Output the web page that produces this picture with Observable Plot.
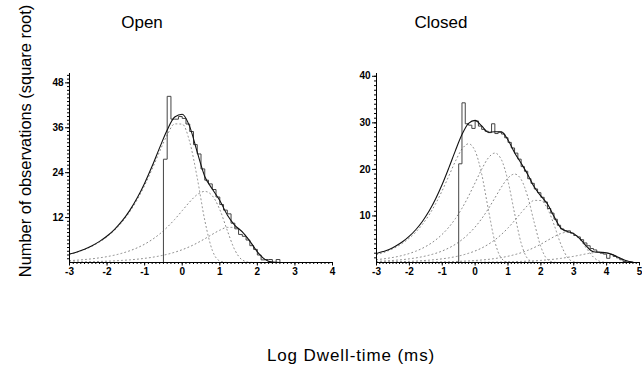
<!DOCTYPE html>
<html><head><meta charset="utf-8">
<script src="https://cdn.jsdelivr.net/npm/d3@7"></script>
<script src="https://cdn.jsdelivr.net/npm/@observablehq/plot@0.6"></script>
<style>
body{margin:0;background:#fff;}
#wrap{position:relative;width:642px;height:368px;overflow:hidden;font-family:"Liberation Sans",Arial,sans-serif;color:#000;background:#fff;}
.abs{position:absolute;}
.title{font-size:17px;white-space:nowrap;transform:translateX(-50%);line-height:normal;}
#ylab{left:25px;top:141px;font-size:16.4px;white-space:nowrap;transform:translate(-50%,-50%) rotate(-90deg);}
#xlab{left:351px;top:346px;font-size:17px;letter-spacing:0.9px;white-space:nowrap;transform:translateX(-50%);}
</style></head><body>
<div id="wrap">
  <div class="abs title" style="left:142px;top:13px">Open</div>
  <div class="abs title" style="left:441px;top:13px">Closed</div>
  <div id="left" class="abs" style="left:0;top:0;width:340px"></div>
  <div id="right" class="abs" style="left:340px;top:0;width:302px"></div>
  <div class="abs" id="ylab">Number of observations (square root)</div>
  <div class="abs" id="xlab">Log Dwell-time (ms)</div>
</div>
<script>
// ---------- Open panel ----------
const openX = [-3.0,-2.8,-2.6,-2.4,-2.2,-2.0,-1.8,-1.6,-1.4,-1.2,-1.0,-0.8,-0.6,-0.4,-0.2,0,0.2,0.4,0.6,0.8,1.0,1.2,1.4,1.6,1.8,2.0,2.2,2.4,2.6];
const openFit = [2.25,2.83,3.56,4.49,5.64,7.07,8.88,11.11,13.87,17.22,21.2,25.77,30.69,35.42,38.89,39.63,36.3,29.47,23.0,19.65,16.57,12.69,9.95,8.19,5.73,2.86,0.83,0.10,0];
const openComp1 = [2.19,2.76,3.47,4.37,5.49,6.89,8.65,10.82,13.5,16.75,20.6,24.99,29.68,34.07,37.04,36.97,32.21,22.62,11.3,3.29,0.41,0.01,0,0,0,0,0,0,0];
const openComp2 = [0.50,0.62,0.79,0.99,1.25,1.57,1.97,2.48,3.12,3.91,4.90,6.13,7.62,9.42,11.52,13.85,16.2,18.15,19,17.85,14.14,8.54,3.36,0.67,0.05,0,0,0,0];
const openComp3 = [0.11,0.14,0.18,0.22,0.28,0.35,0.44,0.56,0.70,0.88,1.11,1.39,1.75,2.19,2.74,3.42,4.24,5.22,6.33,7.52,8.63,9.38,9.37,8.16,5.73,2.86,0.83,0.10,0];
const openBinStart = -0.5;
const openBinWidth = 0.1;
const openCounts = [27.6,44.4,38.3,38.3,39.0,38.5,37.0,35.0,31.5,29.0,25.0,22.0,21.0,19.5,17.5,15.5,14.0,13.0,10.5,9.0,7.5,7.0,6.0,4.5,3.5,2.0,0.7,0.8,0.8,0,0.8];
const openXTicks = [-3,-2,-1,0,1,2,3,4];
const openYTicks = [12,24,36,48];

// ---------- Closed panel ----------
const closedX = [-3.0,-2.8,-2.6,-2.4,-2.2,-2.0,-1.8,-1.6,-1.4,-1.2,-1.0,-0.8,-0.6,-0.4,-0.2,0,0.2,0.4,0.6,0.8,1.0,1.2,1.4,1.6,1.8,2.0,2.2,2.4,2.6,2.8,3.0,3.2,3.4,3.6,3.8,4.0,4.2,4.4,4.6,4.8];
const closedFit = [1.95,2.35,2.85,3.58,4.50,5.66,7.09,8.87,11.05,13.70,16.81,20.33,24.04,27.48,29.90,30.53,29.33,27.99,28.08,28.07,26.31,23.59,21.32,18.92,16.2,14.3,12.55,9.86,7.46,6.67,6.2,5.02,3.4,2.3,2.21,2.07,1.64,0.99,0.39,0.08];
const closedComp1 = [1.67,2.10,2.65,3.33,4.18,5.25,6.58,8.22,10.23,12.65,15.46,18.58,21.74,24.36,25.5,23.96,18.98,11.46,4.50,0.90,0.06,0,0,0,0,0,0,0,0,0,0,0,0,0,0,0,0,0,0,0];
const closedComp2 = [0.61,0.77,0.97,1.22,1.54,1.94,2.44,3.07,3.86,4.84,6.07,7.58,9.43,11.65,14.25,17.13,20.03,22.45,23.5,22.08,17.49,10.56,4.15,0.82,0.06,0,0,0,0,0,0,0,0,0,0,0,0,0,0,0];
const closedComp3 = [0.25,0.31,0.39,0.50,0.62,0.79,0.99,1.25,1.57,1.97,2.48,3.12,3.91,4.90,6.13,7.62,9.42,11.52,13.85,16.20,18.15,19,17.85,14.14,8.54,3.36,0.67,0.05,0,0,0,0,0,0,0,0,0,0,0,0];
const closedComp4 = [0.08,0.10,0.13,0.16,0.20,0.25,0.31,0.40,0.50,0.63,0.79,0.99,1.25,1.57,1.98,2.48,3.11,3.90,4.86,6.03,7.42,9.00,10.69,12.26,13.34,13.31,11.59,8.14,4.07,1.18,0.15,0,0,0,0,0,0,0,0,0];
const closedComp5 = [0.01,0.02,0.02,0.03,0.03,0.04,0.05,0.07,0.09,0.11,0.13,0.17,0.21,0.27,0.34,0.43,0.54,0.67,0.85,1.07,1.34,1.68,2.10,2.61,3.22,3.94,4.74,5.54,6.21,6.5,6.11,4.84,2.92,1.15,0.23,0.02,0,0,0,0];
const closedComp6 = [0,0,0,0,0,0,0,0,0,0,0.01,0.02,0.02,0.03,0.04,0.05,0.06,0.07,0.09,0.11,0.14,0.18,0.23,0.29,0.36,0.45,0.57,0.71,0.88,1.09,1.33,1.60,1.88,2.10,2.2,2.07,1.64,0.99,0.39,0.08];
const closedBinStart = -0.5;
const closedBinWidth = 0.1;
const closedCounts = [21.2,34.3,29.8,29.5,28.8,30.4,29.3,28.6,28.2,27.9,
  29.8,27.7,28.0,27.6,26.8,25.8,24.6,23.5,22.2,20.6,
  19.6,18.0,17.0,15.8,15.0,14.0,13.0,11.6,10.6,9.3,
  8.0,7.2,6.8,6.8,6.3,5.8,5.5,4.9,4.2,3.6,
  3.0,2.7,2.2,2.0,1.8,0.9,1.7,1.3,1.0,0.6,
  0.2];
const closedXTicks = [-3,-2,-1,0,1,2,3,4,5];
const closedYTicks = [10,20,30,40];

function panel(o) {
  const fitData = o.xs.map((x, i) => ({x, y: o.fit[i]}));
  const compData = o.comps.flatMap((c, j) => o.xs.map((x, i) => ({x, y: c[i], k: j})));
  const hist = [{x: o.binStart, y: 0}]
    .concat(o.counts.map((c, i) => ({x: +(o.binStart + i * o.binW).toFixed(3), y: c})))
    .concat([{x: +(o.binStart + o.counts.length * o.binW).toFixed(3), y: 0}]);
  const minorX = d3.range(Math.round(o.xDomain[0] * 10), Math.round(o.xDomain[1] * 10) + 1).map(v => v / 10);
  const minorY = d3.range(1, Math.floor(o.yTop) + 1);
  return Plot.plot({
    width: o.width, height: 300,
    marginLeft: o.marginLeft, marginRight: o.marginRight, marginTop: 73, marginBottom: 38,
    x: {domain: o.xDomain},
    y: {domain: [0, o.yTop]},
    style: {fontFamily: "'Liberation Sans', Arial, sans-serif", fontSize: "10px", fontWeight: "bold", color: "#000", background: "transparent", overflow: "visible", maxWidth: "none"},
    marks: [
      Plot.line(compData, {x: "x", y: "y", z: "k", stroke: "#888", strokeWidth: 1, strokeDasharray: "1,3", curve: "monotone-x"}),
      Plot.line(hist, {x: "x", y: "y", curve: "step-after", stroke: "#444", strokeWidth: 1}),
      Plot.line(fitData, {x: "x", y: "y", curve: "monotone-x", stroke: "#111", strokeWidth: 1.1}),
      Plot.ruleY([0], {stroke: "#000", strokeWidth: 1}),
      Plot.ruleX([o.xDomain[0]], {stroke: "#000", strokeWidth: 1}),
      Plot.axisX({ticks: minorX, tickSize: 2, tickFormat: () => "", label: null}),
      Plot.axisX({ticks: o.xTicks, tickSize: 3.5, tickPadding: 1.5, tickFormat: d => String(d), label: null}),
      Plot.axisY({ticks: minorY, tickSize: 2, tickFormat: () => "", label: null}),
      Plot.axisY({ticks: o.yTicks, tickSize: 4, tickPadding: 2, tickFormat: d => String(d), label: null})
    ]
  });
}

document.getElementById("left").append(panel({
  xs: openX, fit: openFit, comps: [openComp1, openComp2, openComp3],
  binStart: openBinStart, binW: openBinWidth, counts: openCounts,
  xDomain: [-3, 4], yTop: 50.5, xTicks: openXTicks, yTicks: openYTicks,
  width: 340, marginLeft: 69, marginRight: 8
}));
document.getElementById("right").append(panel({
  xs: closedX, fit: closedFit, comps: [closedComp1, closedComp2, closedComp3, closedComp4, closedComp5, closedComp6],
  binStart: closedBinStart, binW: closedBinWidth, counts: closedCounts,
  xDomain: [-3, 5], yTop: 40.6, xTicks: closedXTicks, yTicks: closedYTicks,
  width: 302, marginLeft: 36, marginRight: 3
}));
</script>
</body></html>
